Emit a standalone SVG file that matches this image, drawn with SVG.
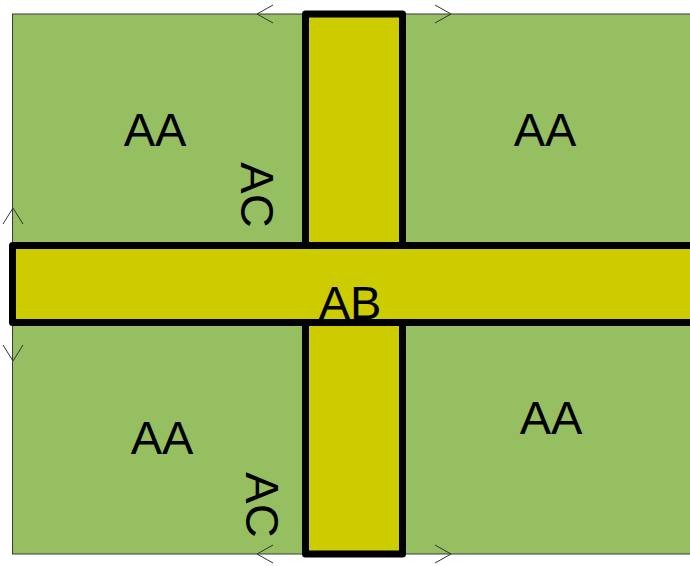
<svg xmlns="http://www.w3.org/2000/svg" width="690" height="566" viewBox="0 0 690 566">
<style>
.bg{fill:#95bf61;stroke:#3a3a3a;stroke-width:1}
.bar{fill:#cccc00;stroke:#000;stroke-width:7;stroke-linejoin:round}
.lbl{font-family:"Liberation Sans",Arial,sans-serif;font-size:47px;fill:#000;text-anchor:middle}
.chev{fill:none;stroke:#333;stroke-width:1}
</style>
<g id="field"><rect class="bg" x="12.5" y="14" width="700" height="540"/></g>
<g id="road-vertical"><rect class="bar" x="305.5" y="14" width="97" height="540"/></g>
<g id="road-horizontal"><rect class="bar" x="12.5" y="245.5" width="700" height="77"/></g>
<g id="connectors">
<polyline class="chev" points="273,5 257,14 273,23"/>
<polyline class="chev" points="435,5 451,14 435,23"/>
<polyline class="chev" points="273,545 257,554 273,563"/>
<polyline class="chev" points="435,545 451,554 435,563"/>
<polyline class="chev" points="3,224 13,208 23,224"/>
<polyline class="chev" points="3,345 13,361 23,345"/>
</g>
<g id="aa1"><text class="lbl" x="155" y="146">AA</text></g>
<g id="aa2"><text class="lbl" x="545" y="146">AA</text></g>
<g id="aa3"><text class="lbl" x="162" y="454">AA</text></g>
<g id="aa4"><text class="lbl" x="551" y="434">AA</text></g>
<g id="ab"><text class="lbl" x="350" y="319">AB</text></g>
<g id="ac1"><text class="lbl" transform="translate(241,195) rotate(90)" x="0" y="0">AC</text></g>
<g id="ac2"><text class="lbl" transform="translate(246,505) rotate(90)" x="0" y="0">AC</text></g>
</svg>
